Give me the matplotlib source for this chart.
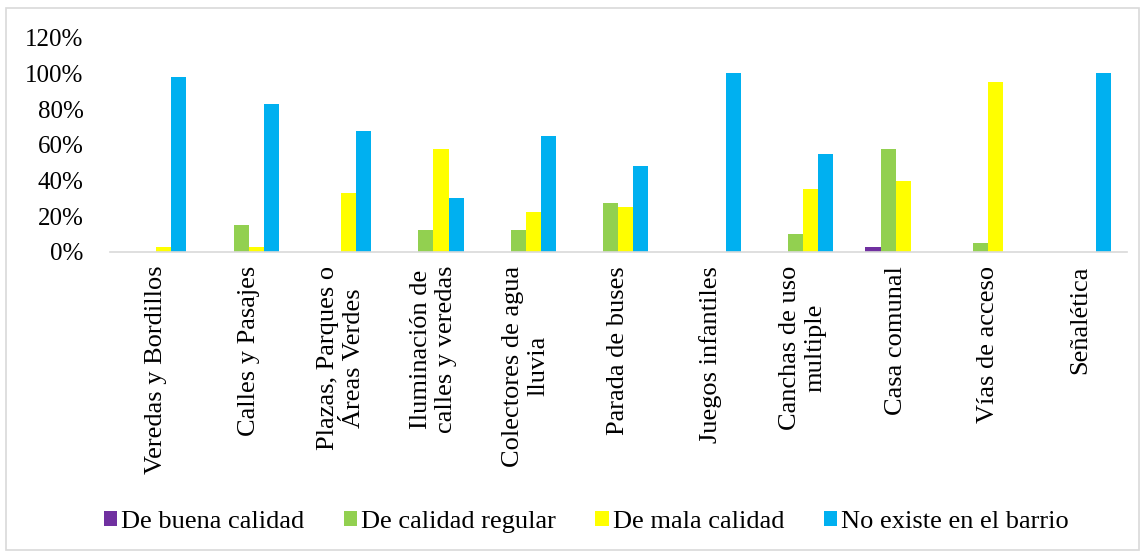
import matplotlib
matplotlib.use("Agg")
import matplotlib.pyplot as plt
import numpy as np
from matplotlib.patches import Rectangle
from matplotlib.ticker import PercentFormatter

categories = ["Veredas y Bordillos", "Calles y Pasajes", "Plazas, Parques o\nÁreas Verdes",
              "Iluminación de\ncalles y veredas", "Colectores de agua\nlluvia", "Parada de buses",
              "Juegos infantiles", "Canchas de uso\nmultiple", "Casa comunal", "Vías de acceso",
              "Señalética"]
series_names = ["De buena calidad", "De calidad regular", "De mala calidad", "No existe en el barrio"]
buena = [0, 0, 0, 0, 0, 0, 0, 0, 2.5, 0, 0]
regular = [0, 15, 0, 12.5, 12.5, 27.5, 0, 10, 57.5, 5, 0]
mala = [2.5, 2.5, 33, 57.5, 22.5, 25, 0, 35, 40, 95, 0]
no_existe = [98, 83, 68, 30, 65, 48, 100, 55, 0, 0, 100]
colors = ["#7030A0", "#92D050", "#FFFF00", "#00B0F0"]

plt.rcParams['font.family'] = ['Liberation Serif', 'DejaVu Serif']

fig = plt.figure(figsize=(11.45, 5.56), dpi=100)
ax = fig.add_axes([0.096, 0.547, 0.888, 0.385])

x = np.arange(len(categories))
w = 0.163
data = [buena, regular, mala, no_existe]
for i, (vals, c, name) in enumerate(zip(data, colors, series_names)):
    ax.bar(x + (i - 1.5) * w, vals, width=w, color=c, label=name)

ax.set_xlim(-0.5, len(categories) - 0.5)
ax.set_ylim(0, 120)
ax.set_yticks(np.arange(0, 121, 20))
ax.yaxis.set_major_formatter(PercentFormatter(decimals=0))
ax.set_xticks(x)
ax.set_xticklabels(categories, rotation=90, ha='center', va='top', multialignment='center', fontsize=19)
ax.tick_params(axis='y', labelsize=18, length=0, pad=19)
ax.tick_params(axis='x', length=0, pad=10)
for s in ['top', 'right', 'left']:
    ax.spines[s].set_visible(False)
ax.spines['bottom'].set_color('#D9D9D9')
ax.spines['bottom'].set_linewidth(1.2)

fig.legend(loc='center', bbox_to_anchor=(0.512, 0.061), ncol=4, frameon=False, fontsize=19,
           handlelength=0.5, handleheight=0.5, handletextpad=0.15, columnspacing=1.5)

fig.patches.append(Rectangle((6 / 1145, 6 / 556), 1 - 12 / 1145, 1 - 14 / 556, transform=fig.transFigure,
                             fill=False, edgecolor='#D9D9D9', linewidth=1.2))

fig.savefig("out.png", dpi=100)
